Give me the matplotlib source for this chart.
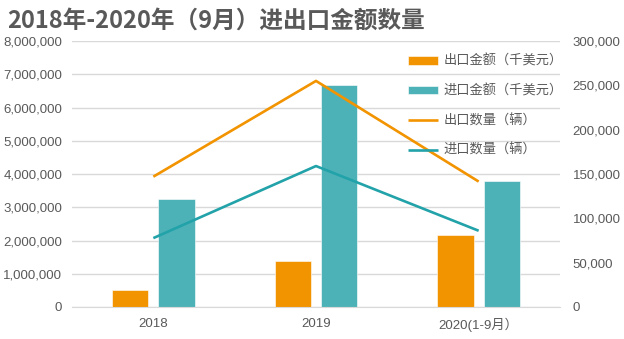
import matplotlib
matplotlib.use("Agg")
import matplotlib.pyplot as plt
import numpy as np
from matplotlib.ticker import FuncFormatter

plt.rcParams['font.family'] = ['Noto Sans CJK SC', 'DejaVu Sans']
tick_font = ['Liberation Sans', 'Noto Sans CJK SC']

# 数据
years = ['2018', '2019', '2020(1-9月）']
export_amount = [520000, 1370000, 2180000]     # 出口金额（千美元）
import_amount = [3250000, 6680000, 3800000]    # 进口金额（千美元）
export_qty = [147000, 255000, 141500]          # 出口数量（辆）
import_qty = [77700, 159000, 86000]            # 进口数量（辆）

orange = '#F29300'
teal_bar = '#4DB2B7'
teal_line = '#22A2A9'
text_gray = '#595959'
grid_gray = '#D9D9D9'

fig = plt.figure(figsize=(6.24, 3.39), dpi=100, facecolor='white')
ax1 = fig.add_axes([0.1154, 0.0944, 0.782, 0.7846])
ax2 = ax1.twinx()

x = np.arange(len(years))
w = 0.224
off = 0.143
b1 = ax1.bar(x - off, export_amount, w, color=orange, edgecolor='white', linewidth=0.4,
             label='出口金额（千美元）', zorder=2)
b2 = ax1.bar(x + off, import_amount, w, color=teal_bar, edgecolor='white', linewidth=0.4,
             label='进口金额（千美元）', zorder=2)

l1, = ax2.plot(x, export_qty, color=orange, linewidth=1.9, label='出口数量（辆）',
               solid_capstyle='butt')
l2, = ax2.plot(x, import_qty, color=teal_line, linewidth=1.9, label='进口数量（辆）',
               solid_capstyle='butt')

ax1.set_xlim(-0.5, 2.5)
ax1.set_ylim(0, 8000000)
ax1.set_yticks(np.arange(0, 8000001, 1000000))
ax1.yaxis.set_major_formatter(FuncFormatter(lambda v, p: f'{v:,.0f}'))
ax2.set_ylim(0, 300000)
ax2.set_yticks(np.arange(0, 300001, 50000))
ax2.yaxis.set_major_formatter(FuncFormatter(lambda v, p: f'{v:,.0f}'))

ax1.set_xticks(x)
ax1.set_xticklabels(years)

ax1.grid(axis='y', color=grid_gray, linewidth=1.0, zorder=0)
ax1.set_axisbelow(True)
for ax in (ax1, ax2):
    for s in ax.spines.values():
        s.set_visible(False)
    ax.tick_params(length=0, labelsize=9.5, colors=text_gray)
    for lab in ax.get_xticklabels() + ax.get_yticklabels():
        lab.set_family(tick_font)
ax1.spines['bottom'].set_visible(True)
ax1.spines['bottom'].set_color(grid_gray)
ax1.tick_params(axis='y', pad=7)
ax1.tick_params(axis='x', pad=8)
ax2.tick_params(axis='y', pad=9)

ax2.legend(handles=[b1, b2, l1, l2], loc='upper left', bbox_to_anchor=(0.678, 0.968),
           frameon=False, fontsize=9.5, labelcolor=text_gray, handlelength=2.3,
           handleheight=0.6, handletextpad=0.38, labelspacing=1.25, borderaxespad=0)

fig.text(0.012, 0.94, '2018年-2020年（9月）进出口金额数量', fontsize=17,
         fontweight='bold', color=text_gray, va='center', ha='left')

fig.savefig('out.png', dpi=100, facecolor='white')
